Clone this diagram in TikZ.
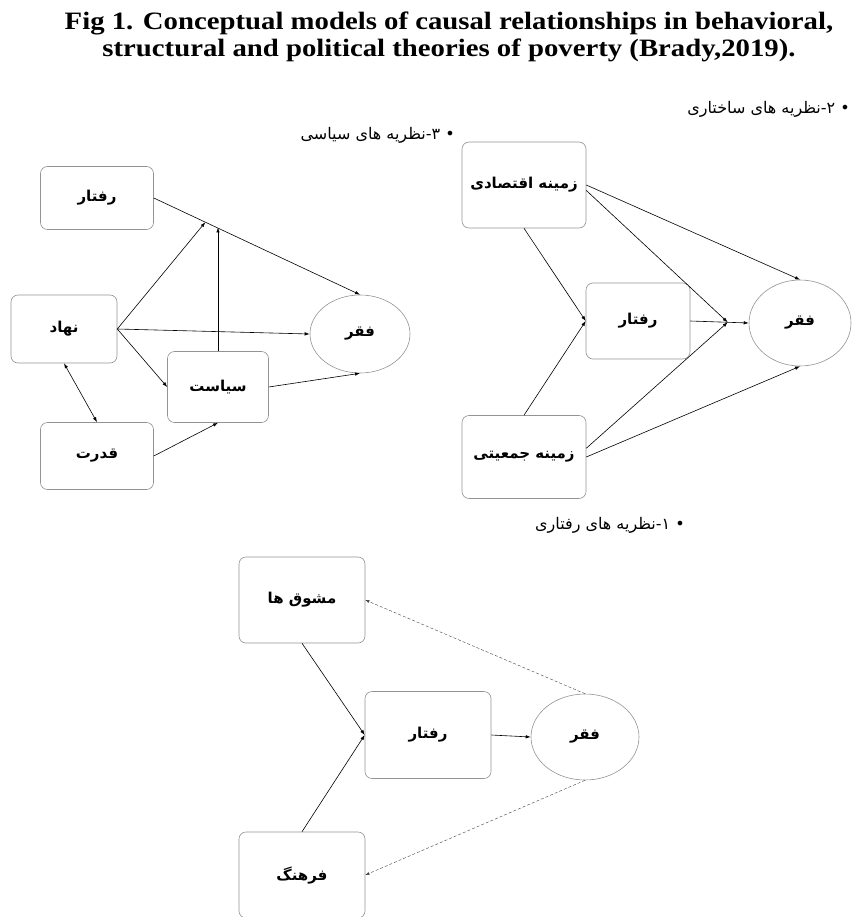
\documentclass[tikz,border=0pt]{standalone}
\usepackage{fontspec}
\setmainfont{Liberation Serif}
\newfontfamily\titlefont{Liberation Serif}[FakeStretch=1.15]
\newfontfamily\fafont[Script=Arabic]{DejaVu Sans}
\TeXXeTstate=1
\usetikzlibrary{arrows.meta,shapes.geometric}

\begin{document}
\begin{tikzpicture}[x=1pt,y=-1pt,>={Latex[length=5pt,width=3.5pt]},
		box/.style={draw=gray!85,rounded corners=7pt,line width=.6pt,inner sep=0pt,font=\fafont\bfseries\fontsize{15}{17}\selectfont},
		poor/.style={draw=gray!85,ellipse,line width=.6pt,inner sep=0pt,font=\fafont\bfseries\fontsize{15}{17}\selectfont},
		link/.style={->,line width=.6pt},
		back/.style={-{Latex[length=4pt,width=3pt]},line width=.4pt,densely dashed,gray!50!black},
		head/.style={inner sep=0pt,font=\fafont\fontsize{16}{18}\selectfont}]
				\useasboundingbox (0,0) rectangle (852,917);
				
				\node[font=\titlefont\bfseries\fontsize{25}{27}\selectfont,align=center] (title) at (449,37) {Fig 1. Conceptual models of causal relationships in behavioral,\\structural and political theories of poverty (Brady,2019).};
				
				% political
				\node[head,anchor=east] (polH) at (455,135) {\beginR • ۳-نظریه های سیاسی\endR};
				\node[box,minimum width=113,minimum height=63] (raftarA) at (97,198) {\beginR رفتار\endR};
				\node[box,minimum width=106,minimum height=68] (nahad) at (64,329) {\beginR نهاد\endR};
				\node[box,minimum width=101,minimum height=71] (siasat) at (218,387) {\beginR سیاست\endR};
				\node[box,minimum width=113,minimum height=67] (qodrat) at (97,456) {\beginR قدرت\endR};
				\node[poor,minimum width=100,minimum height=78] (faqrA) at (360,334) {\beginR فقر\endR};
				
				\draw[link] (raftarA.east) -- coordinate[pos=.25] (jA) coordinate[pos=.305] (jB) (faqrA.north);
				\draw[link] (nahad.east) -- (jA);
				\draw[link] (nahad.east) -- (faqrA.west);
				\draw[link] (nahad.east) -- (siasat.west);
				\draw[link] (siasat.north) -- (siasat.north |- jB);
				\draw[link] (siasat.east) -- (faqrA.south);
				\draw[link,<->] (nahad.south) -- (qodrat.north);
				\draw[link] (qodrat.east) -- (siasat.south);
				
				% structural
				\node[head,anchor=east] (strH) at (850,109) {\beginR • ۲-نظریه های ساختاری\endR};
				\node[box,minimum width=124,minimum height=86] (eqtesadi) at (524,185) {\beginR زمینه اقتصادی\endR};
				\node[box,minimum width=104,minimum height=76] (raftarB) at (638,321) {\beginR رفتار\endR};
				\node[box,minimum width=124,minimum height=83] (jamiyati) at (524,457) {\beginR زمینه جمعیتی\endR};
				\node[poor,minimum width=102,minimum height=86] (faqrB) at (800,323) {\beginR فقر\endR};
				
				\draw[link] (eqtesadi.east) -- (faqrB.north);
				\draw[link] (raftarB.east) -- coordinate[pos=.64] (jC) (faqrB.west);
				\draw[link] (eqtesadi.-5) -- (jC);
				\draw[link] (eqtesadi.south) -- (raftarB.west);
				\draw[link] (jamiyati.north) -- (raftarB.west);
				\draw[link] (jamiyati.8) -- (jC);
				\draw[link] (jamiyati.east) -- (faqrB.south);
				
				% behavioral
				\node[head,anchor=east] (behH) at (685,525) {\beginR • ۱-نظریه های رفتاری\endR};
				\node[box,minimum width=126,minimum height=86] (mashvaq) at (302,600) {\beginR مشوق ها\endR};
				\node[box,minimum width=126,minimum height=87] (raftarC) at (428,735) {\beginR رفتار\endR};
				\node[box,minimum width=126,minimum height=86] (farhang) at (302,875) {\beginR فرهنگ\endR};
				\node[poor,minimum width=108,minimum height=86] (faqrC) at (585,737) {\beginR فقر\endR};
				
				\draw[link] (mashvaq.south) -- (raftarC.west);
				\draw[link] (farhang.north) -- (raftarC.west);
				\draw[link] (raftarC.east) -- (faqrC.west);
				\draw[back] (faqrC.north) -- (mashvaq.east);
				\draw[back] (faqrC.south) -- (farhang.east);
			\end{tikzpicture}
\end{document}
